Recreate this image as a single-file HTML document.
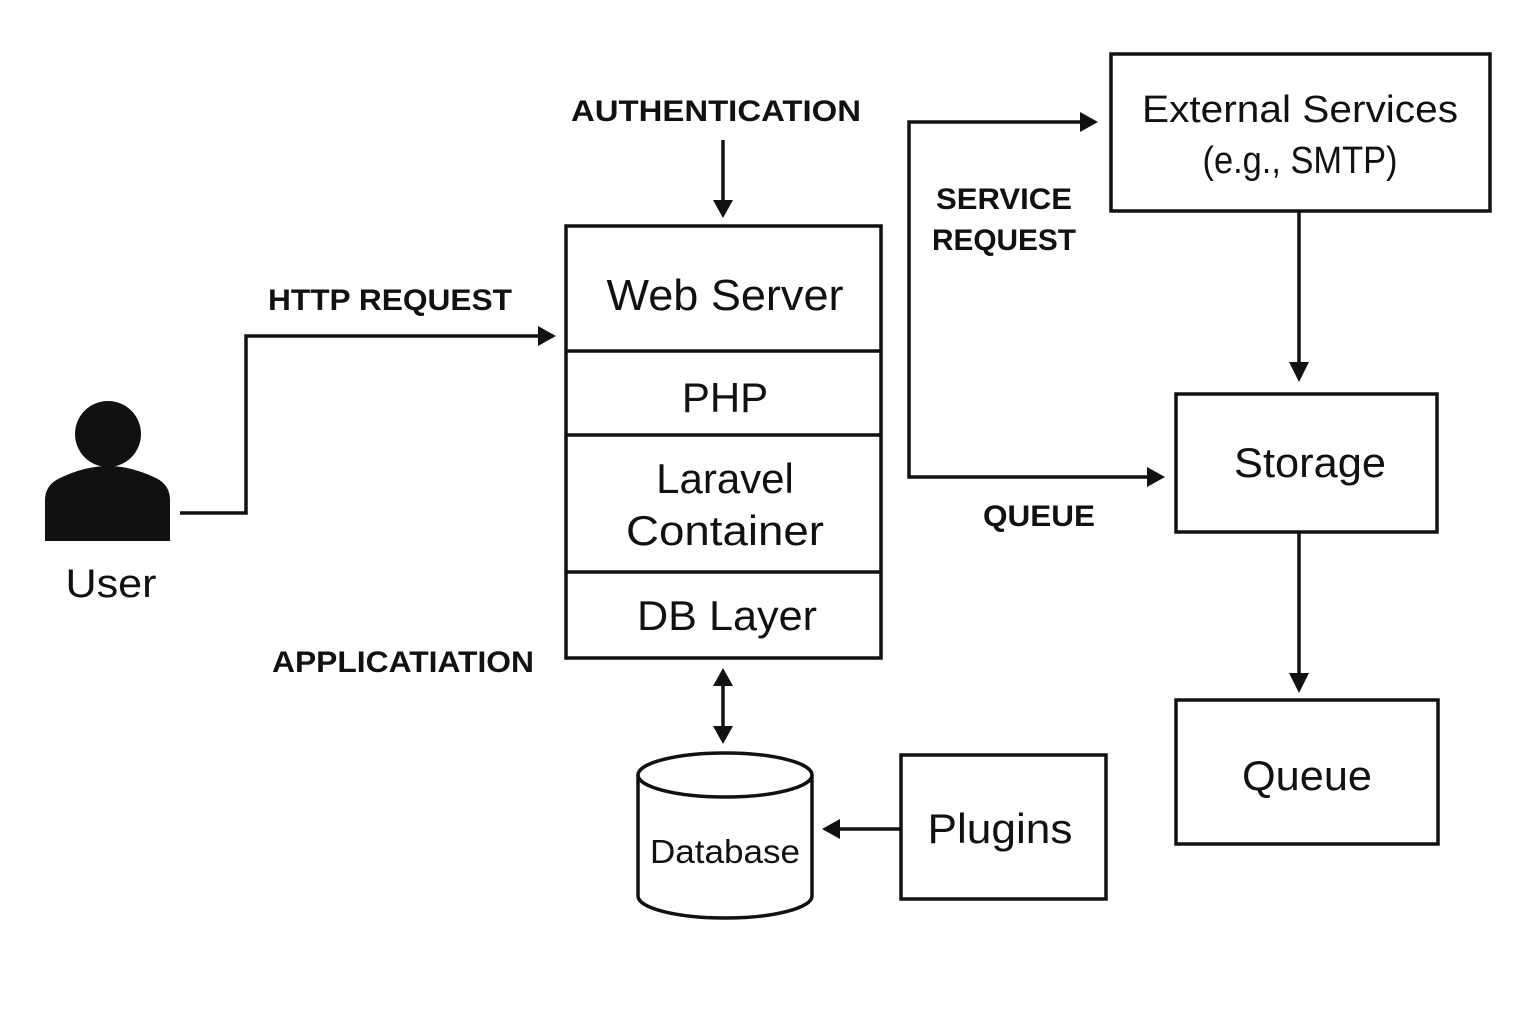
<!DOCTYPE html>
<html><head><meta charset="utf-8"><style>html,body{margin:0;padding:0;background:#fff}svg{display:block}</style></head>
<body>
<svg width="1536" height="1024" viewBox="0 0 1536 1024" xmlns="http://www.w3.org/2000/svg">
<g fill="none" stroke="#111" stroke-width="3.5">
<rect x="566" y="226" width="315" height="432"/>
<line x1="566" y1="351" x2="881" y2="351"/>
<line x1="566" y1="435" x2="881" y2="435"/>
<line x1="566" y1="572" x2="881" y2="572"/>
<rect x="1111" y="54" width="379" height="157"/>
<rect x="1176" y="394" width="261" height="138"/>
<rect x="1176" y="700" width="262" height="144"/>
<rect x="901" y="755" width="205" height="144"/>
<path d="M638,775 L638,896 A87,22 0 0 0 812,896 L812,775"/>
<ellipse cx="725" cy="775" rx="87" ry="22"/>
</g>
<g fill="none" stroke="#111" stroke-width="3.5">
<polyline points="180,513 246,513 246,336 540,336"/>
<line x1="723" y1="140" x2="723" y2="202"/>
<line x1="723" y1="684" x2="723" y2="728"/>
<polyline points="1082,122 909,122 909,477 1148,477"/>
<line x1="1299" y1="211" x2="1299" y2="365"/>
<line x1="1299" y1="532" x2="1299" y2="676"/>
<line x1="901" y1="829" x2="838" y2="829"/>
</g>
<g fill="#111">
<path d="M538,326 L556,336 L538,346 z"/>
<path d="M713,200 L723,218 L733,200 z"/>
<path d="M713,686 L723,668 L733,686 z"/>
<path d="M713,726 L723,744 L733,726 z"/>
<path d="M1080,112 L1098,122 L1080,132 z"/>
<path d="M1147,467 L1165,477 L1147,487 z"/>
<path d="M1289,362 L1299,382 L1309,362 z"/>
<path d="M1289,673 L1299,693 L1309,673 z"/>
<path d="M840,819 L822,829 L840,839 z"/>
<circle cx="108" cy="434" r="33"/>
<path d="M45,541 L45,500 Q45,485 60,478 Q85,466 108,466 Q131,466 156,478 Q170,485 170,500 L170,541 z"/>
</g>
<g font-family="Liberation Sans, sans-serif" fill="#111" text-anchor="middle">
<text x="725" y="310" font-size="44" textLength="237" lengthAdjust="spacingAndGlyphs">Web Server</text>
<text x="725" y="412" font-size="42">PHP</text>
<text x="725" y="493" font-size="42">Laravel</text>
<text x="725" y="545" font-size="42" textLength="198" lengthAdjust="spacingAndGlyphs">Container</text>
<text x="727" y="630" font-size="42" textLength="180" lengthAdjust="spacingAndGlyphs">DB Layer</text>
<text x="725" y="863" font-size="33" textLength="150" lengthAdjust="spacingAndGlyphs">Database</text>
<text x="1000" y="843" font-size="42" textLength="145" lengthAdjust="spacingAndGlyphs">Plugins</text>
<text x="1300" y="122" font-size="38" textLength="316" lengthAdjust="spacingAndGlyphs">External Services</text>
<text x="1300" y="173" font-size="38" textLength="195" lengthAdjust="spacingAndGlyphs">(e.g., SMTP)</text>
<text x="1310" y="477" font-size="42" textLength="152" lengthAdjust="spacingAndGlyphs">Storage</text>
<text x="1307" y="790" font-size="42" textLength="130" lengthAdjust="spacingAndGlyphs">Queue</text>
<text x="111" y="597" font-size="40" textLength="91" lengthAdjust="spacingAndGlyphs">User</text>
<g font-weight="bold" font-size="30">
<text x="716" y="121" textLength="290" lengthAdjust="spacingAndGlyphs">AUTHENTICATION</text>
<text x="390" y="310" textLength="244" lengthAdjust="spacingAndGlyphs">HTTP REQUEST</text>
<text x="403" y="672" textLength="262" lengthAdjust="spacingAndGlyphs">APPLICATIATION</text>
<text x="1004" y="209" textLength="136" lengthAdjust="spacingAndGlyphs">SERVICE</text>
<text x="1004" y="250" textLength="144" lengthAdjust="spacingAndGlyphs">REQUEST</text>
<text x="1039" y="526" textLength="112" lengthAdjust="spacingAndGlyphs">QUEUE</text>
</g>
</g>
</svg>
</body></html>
